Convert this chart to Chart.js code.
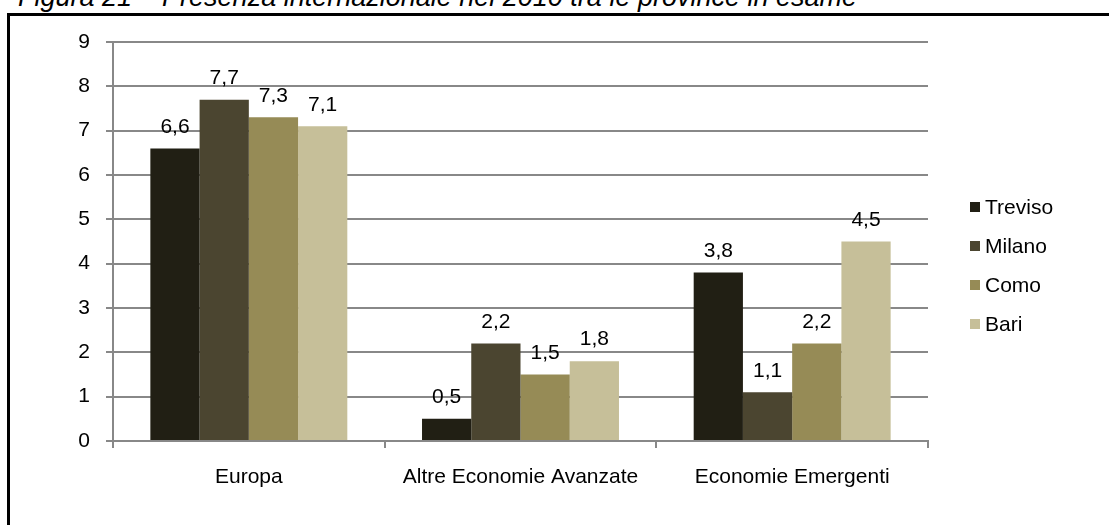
<!DOCTYPE html>
<html>
<head>
<meta charset="utf-8">
<script src="https://cdn.jsdelivr.net/npm/chart.js@4.4.1/dist/chart.umd.min.js"></script>
<style>
  html, body { margin: 0; padding: 0; background: #ffffff; width: 1109px; height: 525px; overflow: hidden; position: relative; }
  #title { position: absolute; left: 18px; top: -16px; font: italic 27px "Liberation Sans", Arial, sans-serif; line-height: 27px; white-space: nowrap; color: #000; }
  #frame { position: absolute; left: 7px; top: 13px; width: 1200px; height: 600px; border-left: 3px solid #000; border-top: 3px solid #000; }
  #wrap { position: absolute; left: 0; top: 0; width: 1109px; height: 525px; }
</style>
</head>
<body>
<div id="title">Figura 21 – Presenza internazionale nel 2010 tra le province in esame</div>
<div id="frame"></div>
<div id="wrap"><canvas id="c"></canvas></div>
<script>
const categories = ["Europa", "Altre Economie Avanzate", "Economie Emergenti"];
const seriesNames = ["Treviso", "Milano", "Como", "Bari"];
const treviso = [6.6, 0.5, 3.8];
const milano = [7.7, 2.2, 1.1];
const como = [7.3, 1.5, 2.2];
const bari = [7.1, 1.8, 4.5];
const yTicks = [0, 1, 2, 3, 4, 5, 6, 7, 8, 9];
const colors = ["#211f14", "#4b4530", "#968b56", "#c6bf99"];

const FONT = '"Liberation Sans", Arial, sans-serif';
const FS = 21;

const valueLabels = {
  id: 'valueLabels',
  afterDatasetsDraw(chart) {
    const ctx = chart.ctx;
    ctx.save();
    ctx.font = FS + 'px ' + FONT;
    ctx.fillStyle = '#000';
    ctx.textAlign = 'center';
    ctx.textBaseline = 'bottom';
    chart.data.datasets.forEach((ds, i) => {
      const meta = chart.getDatasetMeta(i);
      meta.data.forEach((bar, j) => {
        const txt = String(ds.data[j]).replace('.', ',');
        ctx.fillText(txt, bar.x, bar.y - 11);
      });
    });
    ctx.restore();
  }
};

const sideLegend = {
  id: 'sideLegend',
  afterDraw(chart) {
    const ctx = chart.ctx;
    ctx.save();
    ctx.font = FS + 'px ' + FONT;
    ctx.textBaseline = 'middle';
    ctx.textAlign = 'left';
    chart.data.datasets.forEach((ds, i) => {
      const cy = 207 + i * 39;
      ctx.fillStyle = ds.backgroundColor;
      ctx.fillRect(970, cy - 5, 10, 10);
      ctx.fillStyle = '#000';
      ctx.fillText(ds.label, 985, cy + 1);
    });
    ctx.restore();
  }
};

const seriesData = [treviso, milano, como, bari];

new Chart(document.getElementById('c'), {
  type: 'bar',
  data: {
    labels: categories,
    datasets: seriesNames.map((n, i) => ({
      label: n,
      data: seriesData[i],
      backgroundColor: colors[i],
      borderWidth: 0,
      categoryPercentage: 0.725,
      barPercentage: 1.0
    }))
  },
  options: {
    responsive: true,
    maintainAspectRatio: false,
    animation: false,
    layout: { padding: { left: 53, top: 42, right: 181, bottom: 0 } },
    plugins: { legend: { display: false }, tooltip: { enabled: false }, title: { display: false } },
    scales: {
      x: {
        afterFit(scale) { scale.height = 84; },
        grid: { display: true, drawOnChartArea: false, drawTicks: true, tickLength: 7, offset: true, color: '#888888', lineWidth: 2 },
        border: { display: true, color: '#888888', width: 2 },
        ticks: { color: '#000', font: { family: FONT, size: FS }, padding: 17, maxRotation: 0 }
      },
      y: {
        min: 0, max: 9,
        afterFit(scale) { scale.width = 60; },
        afterBuildTicks(scale) { scale.ticks = yTicks.map(v => ({ value: v })); },
        grid: { color: '#888888', lineWidth: 2, drawTicks: true, tickLength: 7 },
        border: { display: true, color: '#888888', width: 2 },
        ticks: { color: '#000', font: { family: FONT, size: FS }, padding: 16 }
      }
    }
  },
  plugins: [valueLabels, sideLegend]
});
</script>
</body>
</html>
